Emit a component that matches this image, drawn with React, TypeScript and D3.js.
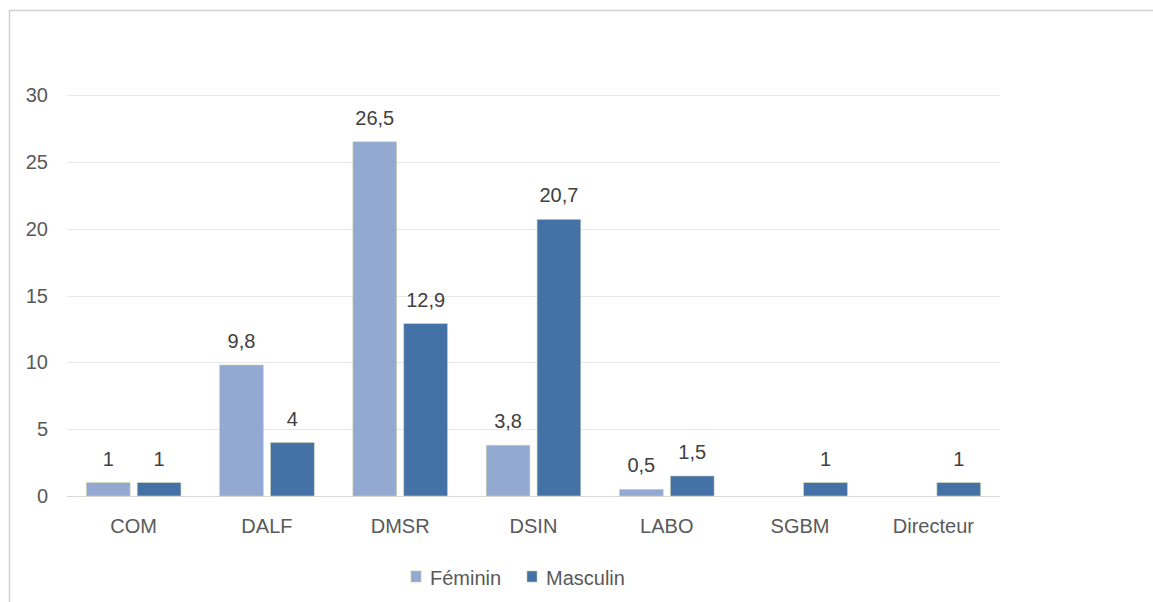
import React from "react";
import * as d3 from "d3";

const categories = ["COM", "DALF", "DMSR", "DSIN", "LABO", "SGBM", "Directeur"];
const seriesNames = ["Féminin", "Masculin"];
const feminin: (number | null)[] = [1, 9.8, 26.5, 3.8, 0.5, null, null];
const masculin: (number | null)[] = [1, 4, 12.9, 20.7, 1.5, 1, 1];
const yTicks = [0, 5, 10, 15, 20, 25, 30];
const colors = ["#93a9d1", "#4472a6"];

const W = 1153;
const H = 602;
const FONT = "'Liberation Sans', Arial, sans-serif";
const TEXT = "#595959";

export default function App() {
  const x = d3.scaleBand<string>().domain(categories).range([67, 1000]).paddingInner(0).paddingOuter(0);
  const xs = d3
    .scaleBand<string>()
    .domain(seriesNames)
    .range([0, x.bandwidth()])
    .paddingInner(0.14)
    .paddingOuter(0.38);
  const y = d3.scaleLinear().domain([0, 30]).range([496, 95]);
  const values = [feminin, masculin];
  const fmt = (v: number) => String(v).replace(".", ",");

  return (
    <div style={{ position: "absolute", left: 0, top: 0, width: W, height: H, background: "#fff" }}>
      <svg width={W} height={H} style={{ display: "block" }} fontFamily={FONT}>
        <rect x={0} y={0} width={W} height={H} fill="#fff" />
        <line x1={9.5} y1={10} x2={9.5} y2={H} stroke="#d0d0d0" strokeWidth={1.5} />
        <line x1={9} y1={10.5} x2={W} y2={10.5} stroke="#d0d0d0" strokeWidth={1.5} />
        {yTicks.map((t) => (
          <g key={t}>
            <line
              x1={67}
              x2={1000}
              y1={Math.round(y(t)) + 0.5}
              y2={Math.round(y(t)) + 0.5}
              stroke={t === 0 ? "#d9d9d9" : "#e8e8e8"}
              strokeWidth={1}
            />
            <text x={48} y={y(t)} textAnchor="end" dominantBaseline="central" fontSize={20} fill={TEXT}>
              {t}
            </text>
          </g>
        ))}
        {categories.map((c, i) => (
          <g key={c} transform={`translate(${x(c)},0)`}>
            {seriesNames.map((s, si) => {
              const v = values[si][i];
              if (v === null || v === undefined) return null;
              const bx = xs(s)!;
              return (
                <g key={s}>
                  <rect
                    x={bx}
                    y={y(v)}
                    width={xs.bandwidth()}
                    height={y(0) - y(v)}
                    fill={colors[si]}
                    stroke="#c9d6b0"
                    strokeWidth={0.6}
                  />
                  <text
                    x={bx + xs.bandwidth() / 2}
                    y={y(v) - 17}
                    textAnchor="middle"
                    fontSize={20}
                    fill="#404040"
                  >
                    {fmt(v)}
                  </text>
                </g>
              );
            })}
            <text x={x.bandwidth() / 2} y={526} textAnchor="middle" dominantBaseline="central" fontSize={20} fill={TEXT}>
              {c}
            </text>
          </g>
        ))}
        {/* legend */}
        {seriesNames.map((s, si) => {
          const lx = si === 0 ? 411 : 527;
          return (
            <g key={s}>
              <rect x={lx} y={571} width={10} height={11} fill={colors[si]} stroke="#b9c9a0" strokeWidth={0.6} />
              <text x={lx + 19} y={578} dominantBaseline="central" fontSize={20} fill={TEXT}>
                {s}
              </text>
            </g>
          );
        })}
      </svg>
    </div>
  );
}
